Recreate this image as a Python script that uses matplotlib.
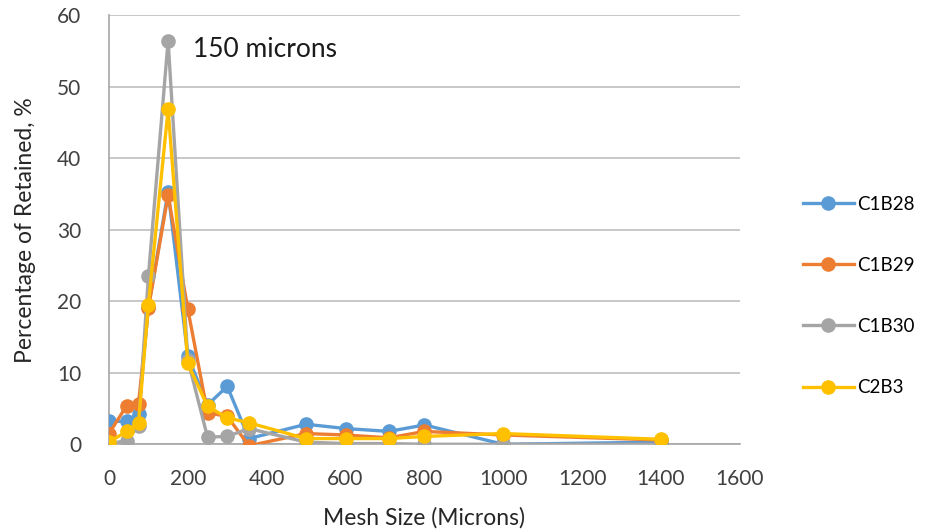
import numpy as np
import matplotlib.pyplot as plt

# mesh sizes (microns) and % retained per sample
mesh = [0, 45, 75, 100, 150, 200, 250, 300, 355, 500, 600, 710, 800, 1000, 1400]
c1b28 = [3.2, 3.2, 4.3, 19.2, 35.3, 12.3, 5.5, 8.1, 0.8, 2.8, 2.2, 1.8, 2.7, 0.0, 0.3]
c1b29 = [1.5, 5.4, 5.7, 19.0, 34.8, 18.9, 4.4, 3.9, -0.2, 1.5, 1.3, 0.9, 1.8, 1.3, 0.6]
c1b30 = [0.1, 0.5, 2.6, 23.5, 56.4, 11.8, 1.0, 1.1, 2.2, 0.3, 0.1, 0.1, 0.0, 0.0, 0.0]
c2b3 = [0.3, 1.8, 3.0, 19.5, 46.8, 11.3, 5.3, 3.7, 3.0, 0.8, 0.8, 0.8, 1.1, 1.5, 0.7]

labels = ["C1B28", "C1B29", "C1B30", "C2B3"]
colors = ["#5B9BD5", "#ED7D31", "#A5A5A5", "#FFC000"]

plt.rcParams['font.family'] = ['Lato', 'DejaVu Sans']

fig = plt.figure(figsize=(9.25, 5.31), dpi=100)
ax = fig.add_axes([0.1178, 0.1633, 0.682, 0.8085])

for vals, lab, col in zip([c1b28, c1b29, c1b30, c2b3], labels, colors):
    ax.plot(mesh, vals, color=col, lw=2.4, marker='o', markersize=9.5,
            label=lab, zorder=3)

ax.set_xlim(0, 1600)
ax.set_ylim(0, 60)
ax.set_xticks(np.arange(0, 1601, 200))
ax.set_yticks(np.arange(0, 61, 10))
ax.tick_params(axis='x', length=0, labelsize=15, colors='#404040', pad=18)
ax.tick_params(axis='y', length=0, labelsize=15, colors='#404040', pad=20)
ax.yaxis.grid(True, color='#BFBFBF', lw=1.2)
ax.set_axisbelow(True)
for s in ['top', 'right']:
    ax.spines[s].set_visible(False)
for s in ['left', 'bottom']:
    ax.spines[s].set_color('#A6A6A6')
    ax.spines[s].set_linewidth(1.2)

ax.set_xlabel('Mesh Size (Microns)', fontsize=16.5, color='#262626', labelpad=13)
ax.set_ylabel('Percentage of Retained, %', fontsize=16.5, color='#262626', labelpad=15)
ax.text(212, 55.2, '150 microns', fontsize=19, color='#1a1a1a', va='center')

fig.legend(loc='center left', bbox_to_anchor=(0.85, 0.4426), frameon=False,
           fontsize=13.5, labelspacing=2.35, handlelength=2.7, handletextpad=0.2)

fig.savefig('out.png', dpi=100)
